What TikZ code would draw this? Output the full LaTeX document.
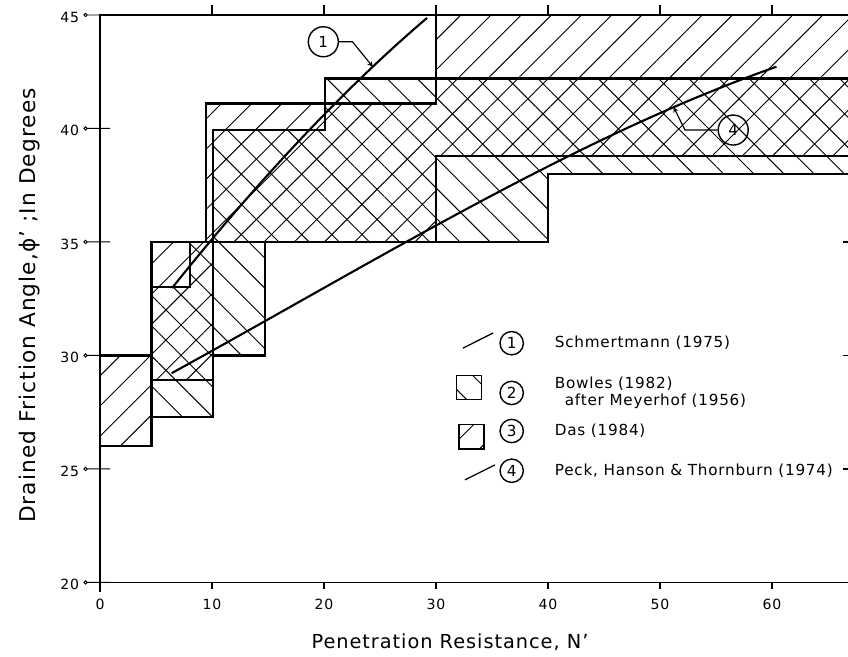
\documentclass[tikz,border=0pt]{standalone}
\usepackage{fontspec}
\setmainfont{DejaVu Sans}[LetterSpace=5]
\usepackage{tikz}
\usetikzlibrary{arrows,positioning,patterns.meta}

\begin{document}
\begin{tikzpicture}[
    x=0.336cm, y=0.681cm,
    zone/.style={line width=1.8pt},
    das/.style={pattern={Lines[angle=45,distance=6.4mm,line width=0.8pt]}},
    bowles/.style={pattern={Lines[angle=-45,distance=6.4mm,line width=0.8pt]}},
    axisline/.style={line width=1.3pt},
    trend/.style={line width=1.8pt},
    lead/.style={line width=1pt, -stealth},
    num/.style={font=\fontsize{12}{14}\selectfont},
    axtitle/.style={font=\fontsize{16.5}{20}\selectfont},
    tag/.style={circle, draw, line width=1.2pt, minimum size=9mm, inner sep=0pt, font=\fontsize{13}{15}\selectfont},
    keytag/.style={tag, minimum size=7mm},
    entry/.style={font=\fontsize{13}{14}\selectfont, align=left}
]
    \useasboundingbox (-8.93,16.72) rectangle (66.79,45.66);

    \path[das, draw, zone] (0,26) -- (4.6,26) -- (4.6,28.9) -- (10.1,28.9) -- (10.1,35) -- (30,35)
        -- (30,38.8) -- (68,38.8) -- (68,45) -- (30,45) -- (30,41.1) -- (9.5,41.1) -- (9.5,35)
        -- (4.6,35) -- (4.6,30) -- (0,30) -- cycle;
    \path[bowles, draw, zone] (4.6,27.3) -- (10.1,27.3) -- (10.1,30) -- (14.7,30) -- (14.7,35) -- (40,35)
        -- (40,38) -- (68,38) -- (68,42.2) -- (20.1,42.2) -- (20.1,39.93) -- (10.1,39.93) -- (10.1,35)
        -- (8,35) -- (8,33) -- (4.6,33) -- cycle;

    \draw[axisline] (0,19.6) -- (0,45) -- (68,45);
    \draw[axisline] (0,20) -- (68,20);
    \foreach \n in {10,20,...,60}
        \draw[axisline] (\n,45) -- (\n,45.45);
    \foreach \n in {0,10,...,60} {
        \draw[axisline] (\n,20) -- (\n,19.7);
        \node[num] (n\n) at (\n,19.05) {\n};
    }
    \foreach \a in {20,25,...,45} {
        \node[num, anchor=east] (a\a) at (-1.5,\a-0.1) {\a};
        \draw[line width=0.8pt] (-1.29,\a) circle (0.05cm) (-1.12,\a) -- (0.9,\a);
    }
    \foreach \a in {25,30,35}
        \draw[axisline] (66.3,\a) -- (68,\a);

    \node[axtitle] (xtitle) at (31.25,17.38) {Penetration Resistance, N'};
    \node[axtitle, font=\fontsize{18.5}{22}\selectfont, rotate=90] (ytitle) at (-6.25,32.2) {Drained Friction Angle,ϕ' ;In Degrees};

    \draw[trend] (6.43,32.97) .. controls (12,36.4) and (20,41) .. coordinate[pos=0.82] (s1) (29.2,44.87);
    \draw[trend] (6.4,29.22) .. controls (24.4,34.1) and (42.4,39.6) .. coordinate[pos=0.83] (s4) (60.4,42.72);

    \node[tag] (t1) at (19.94,43.82) {1};
    \node[tag] (t4) at (56.54,39.93) {4};
    \draw[lead] (t1.east) -- ++(1.2,0) -- (s1);
    \draw[lead] (t4.west) -- ++(-2.9,0) -- (s4);

    \node[keytag] (k1) at (36.76,30.54) {1};
    \node[keytag, below=0.75cm of k1] (k2) {2};
    \node[keytag, below=0.4cm of k2] (k3) {3};
    \node[keytag, below=0.45cm of k3] (k4) {4};
    \node[entry, right=0.8cm of k1] (e1) {Schmertmann (1975)};
    \node[entry, right=0.8cm of k2] (e2) {Bowles (1982)\\\hspace*{0.3cm}after Meyerhof (1956)};
    \node[entry, right=0.8cm of k3] (e3) {Das (1984)};
    \node[entry, right=0.8cm of k4] (e4) {Peck, Hanson \& Thornburn (1974)};
    \draw[line width=1.1pt] (32.4,30.32) -- (35.1,30.99);
    \path[bowles, draw, line width=1.2pt] (31.85,28.06) rectangle (34.08,29.12);
    \path[das, draw, line width=1.2pt] (32.07,25.87) rectangle (34.3,26.97);
    \draw[line width=1.1pt] (32.59,24.52) -- (35.27,25.18);
\end{tikzpicture}
\end{document}
